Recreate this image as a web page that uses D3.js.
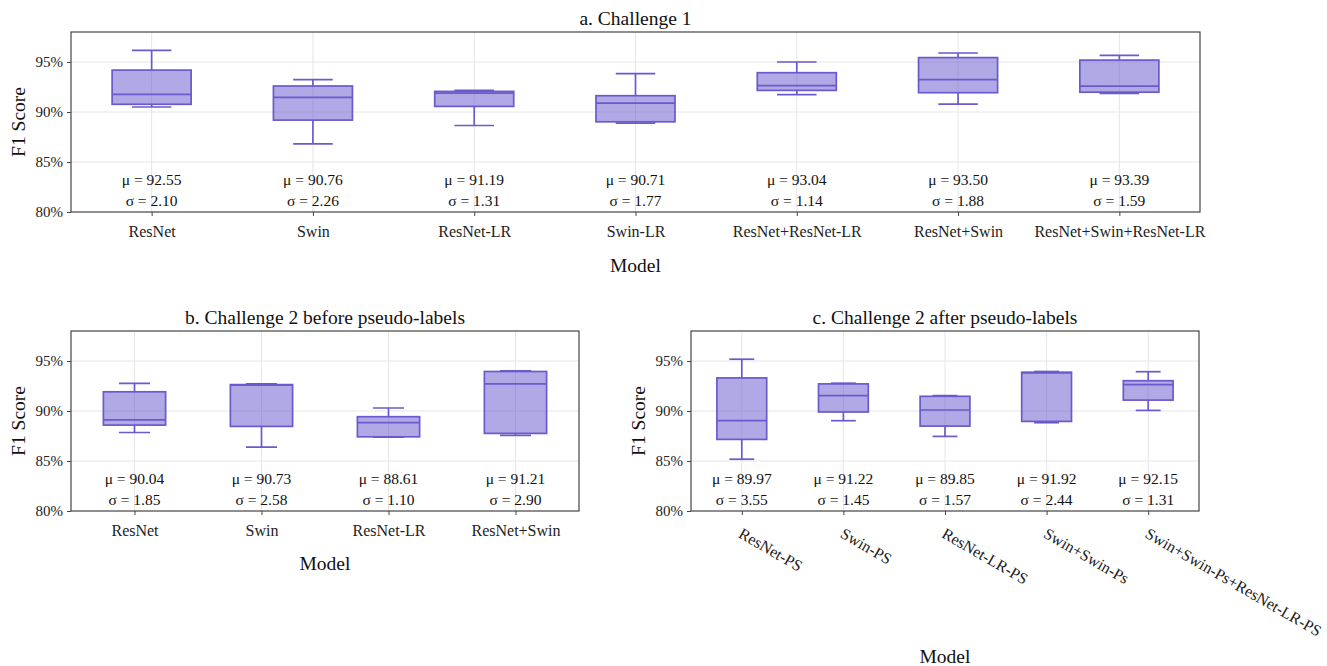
<!DOCTYPE html>
<meta charset="utf-8">
<style>

body {
  margin: 0;
  background: #fff;
}

svg text {
  font-family: 'Liberation Serif', 'Times New Roman', Tinos, 'DejaVu Serif', 'Noto Serif', serif !important;
}

.grid line {
  stroke: #e6e6e6;
  stroke-width: 1px;
}

.frame {
  fill: none;
  stroke: #444;
  stroke-width: 1.2px;
}

.box rect {
  fill: #6a5acd;
  fill-opacity: 0.52;
  stroke: #6a5acd;
  stroke-width: 1.7px;
}

.box line {
  stroke: #6a5acd;
  stroke-width: 1.7px;
}

.axis .tick line {
  stroke: #444;
}

.axis .tick text {
  fill: #222;
}

.stat {
  fill: #111;
  font-size: 15.5px;
  text-anchor: middle;
}

.title, .axis-title {
  fill: #111;
  font-size: 19.5px;
  text-anchor: middle;
}

</style>
<svg></svg>
<script src="https://d3js.org/d3.v7.min.js"></script>
<script>

// five-number summaries: [lower whisker, Q1, median, Q3, upper whisker]
var modelsA = ['ResNet', 'Swin', 'ResNet-LR', 'Swin-LR', 'ResNet+ResNet-LR', 'ResNet+Swin', 'ResNet+Swin+ResNet-LR'];
var boxesA = [
  [90.50, 90.77, 91.77, 94.19, 96.16],
  [86.82, 89.19, 91.46, 92.60, 93.23],
  [88.65, 90.56, 91.89, 92.06, 92.16],
  [88.89, 89.02, 90.89, 91.63, 93.83],
  [91.73, 92.16, 92.63, 93.93, 95.00],
  [90.79, 91.93, 93.23, 95.44, 95.90],
  [91.85, 91.98, 92.58, 95.19, 95.66]
];
var muA = ['92.55', '90.76', '91.19', '90.71', '93.04', '93.50', '93.39'];
var sigmaA = ['2.10', '2.26', '1.31', '1.77', '1.14', '1.88', '1.59'];

var modelsB = ['ResNet', 'Swin', 'ResNet-LR', 'ResNet+Swin'];
var boxesB = [
  [87.85, 88.59, 89.12, 91.92, 92.77],
  [86.39, 88.46, 92.58, 92.64, 92.71],
  [87.39, 87.42, 88.83, 89.43, 90.30],
  [87.56, 87.76, 92.71, 93.95, 94.01]
];
var muB = ['90.04', '90.73', '88.61', '91.21'];
var sigmaB = ['1.85', '2.58', '1.10', '2.90'];

var modelsC = ['ResNet-PS', 'Swin-PS', 'ResNet-LR-PS', 'Swin+Swin-Ps', 'Swin+Swin-Ps+ResNet-LR-PS'];
var boxesC = [
  [85.18, 87.16, 89.03, 93.31, 95.18],
  [89.03, 89.90, 91.54, 92.71, 92.78],
  [87.46, 88.49, 90.10, 91.47, 91.54],
  [88.83, 88.96, 93.81, 93.88, 93.95],
  [90.06, 91.09, 92.63, 93.03, 93.93]
];
var muC = ['89.97', '91.22', '89.85', '91.92', '92.15'];
var sigmaC = ['3.55', '1.45', '1.57', '2.44', '1.31'];

var yTicks = [80, 85, 90, 95];
var yDomain = [80, 98];

var svg = d3.select('svg')
  .attr('width', 1327)
  .attr('height', 666);

function drawPanel(p) {
  var x = d3.scalePoint().domain(p.models).range([p.left, p.right]).padding(0.5);
  var y = d3.scaleLinear().domain(yDomain).range([p.bottom, p.top]);
  var bw = x.step() * 0.49;

  var g = svg.append('g');

  // grid
  var grid = g.append('g').attr('class', 'grid');
  grid.selectAll('.gy')
    .data(yTicks.slice(1))
    .enter().append('line')
    .attr('x1', p.left).attr('x2', p.right)
    .attr('y1', function (d) { return y(d); })
    .attr('y2', function (d) { return y(d); });
  grid.selectAll('.gx')
    .data(p.models)
    .enter().append('line')
    .attr('y1', p.top).attr('y2', p.bottom)
    .attr('x1', function (d) { return x(d); })
    .attr('x2', function (d) { return x(d); });

  // boxes
  var box = g.append('g').attr('class', 'box')
    .selectAll('g')
    .data(p.boxes)
    .enter().append('g')
    .attr('transform', function (d, i) { return 'translate(' + x(p.models[i]) + ',0)'; });

  box.append('line')
    .attr('y1', function (d) { return y(d[3]); })
    .attr('y2', function (d) { return y(d[4]); });
  box.append('line')
    .attr('y1', function (d) { return y(d[0]); })
    .attr('y2', function (d) { return y(d[1]); });
  box.append('line')
    .attr('x1', -bw / 4).attr('x2', bw / 4)
    .attr('y1', function (d) { return y(d[4]); })
    .attr('y2', function (d) { return y(d[4]); });
  box.append('line')
    .attr('x1', -bw / 4).attr('x2', bw / 4)
    .attr('y1', function (d) { return y(d[0]); })
    .attr('y2', function (d) { return y(d[0]); });
  box.append('rect')
    .attr('x', -bw / 2)
    .attr('width', bw)
    .attr('y', function (d) { return y(d[3]); })
    .attr('height', function (d) { return y(d[1]) - y(d[3]); });
  box.append('line')
    .attr('x1', -bw / 2).attr('x2', bw / 2)
    .attr('y1', function (d) { return y(d[2]); })
    .attr('y2', function (d) { return y(d[2]); });

  // mean / sd labels
  g.selectAll('.mu')
    .data(p.mu)
    .enter().append('text')
    .attr('class', 'stat')
    .attr('x', function (d, i) { return x(p.models[i]); })
    .attr('y', y(83.27))
    .attr('dy', '0.35em')
    .text(function (d) { return 'μ = ' + d; });
  g.selectAll('.sigma')
    .data(p.sigma)
    .enter().append('text')
    .attr('class', 'stat')
    .attr('x', function (d, i) { return x(p.models[i]); })
    .attr('y', y(81.1))
    .attr('dy', '0.35em')
    .text(function (d) { return 'σ = ' + d; });

  // axes
  var ya = g.append('g')
    .attr('class', 'axis')
    .attr('transform', 'translate(' + p.left + ',0)')
    .call(d3.axisLeft(y).tickValues(yTicks).tickSize(4).tickPadding(4)
      .tickFormat(function (d) { return d + '%'; }));
  ya.attr('font-family', null);
  ya.select('.domain').remove();
  ya.selectAll('text').style('font-size', '15px');

  var xa = g.append('g')
    .attr('class', 'axis')
    .attr('transform', 'translate(0,' + p.bottom + ')')
    .call(d3.axisBottom(x).tickSize(4).tickPadding(10));
  xa.attr('font-family', null);
  xa.select('.domain').remove();
  xa.selectAll('text').style('font-size', '16px');

  if (p.rotate) {
    xa.selectAll('text')
      .attr('y', 0)
      .attr('dy', '0.71em')
      .attr('text-anchor', 'start')
      .attr('transform', 'translate(1,16) rotate(30)');
  }

  g.append('rect')
    .attr('class', 'frame')
    .attr('x', p.left)
    .attr('y', p.top)
    .attr('width', p.right - p.left)
    .attr('height', p.bottom - p.top);

  // titles
  g.append('text')
    .attr('class', 'title')
    .attr('x', (p.left + p.right) / 2)
    .attr('y', p.top - 14)
    .attr('dy', '0.35em')
    .text(p.title);

  g.append('text')
    .attr('class', 'axis-title')
    .attr('transform', 'translate(' + (p.left - 52.7) + ',' + ((p.top + p.bottom) / 2) + ') rotate(-90)')
    .attr('dy', '0.35em')
    .text('F1 Score');

  g.append('text')
    .attr('class', 'axis-title')
    .attr('x', (p.left + p.right) / 2)
    .attr('y', p.xTitleY)
    .attr('dy', '0.35em')
    .text('Model');
}

drawPanel({
  models: modelsA, boxes: boxesA, mu: muA, sigma: sigmaA,
  left: 71, right: 1200, top: 32, bottom: 212,
  title: 'a. Challenge 1', xTitleY: 265, rotate: false
});

drawPanel({
  models: modelsB, boxes: boxesB, mu: muB, sigma: sigmaB,
  left: 71, right: 579, top: 331, bottom: 511,
  title: 'b. Challenge 2 before pseudo-labels', xTitleY: 563, rotate: false
});

drawPanel({
  models: modelsC, boxes: boxesC, mu: muC, sigma: sigmaC,
  left: 691, right: 1199, top: 331, bottom: 511,
  title: 'c. Challenge 2 after pseudo-labels', xTitleY: 656, rotate: true
});

</script>
